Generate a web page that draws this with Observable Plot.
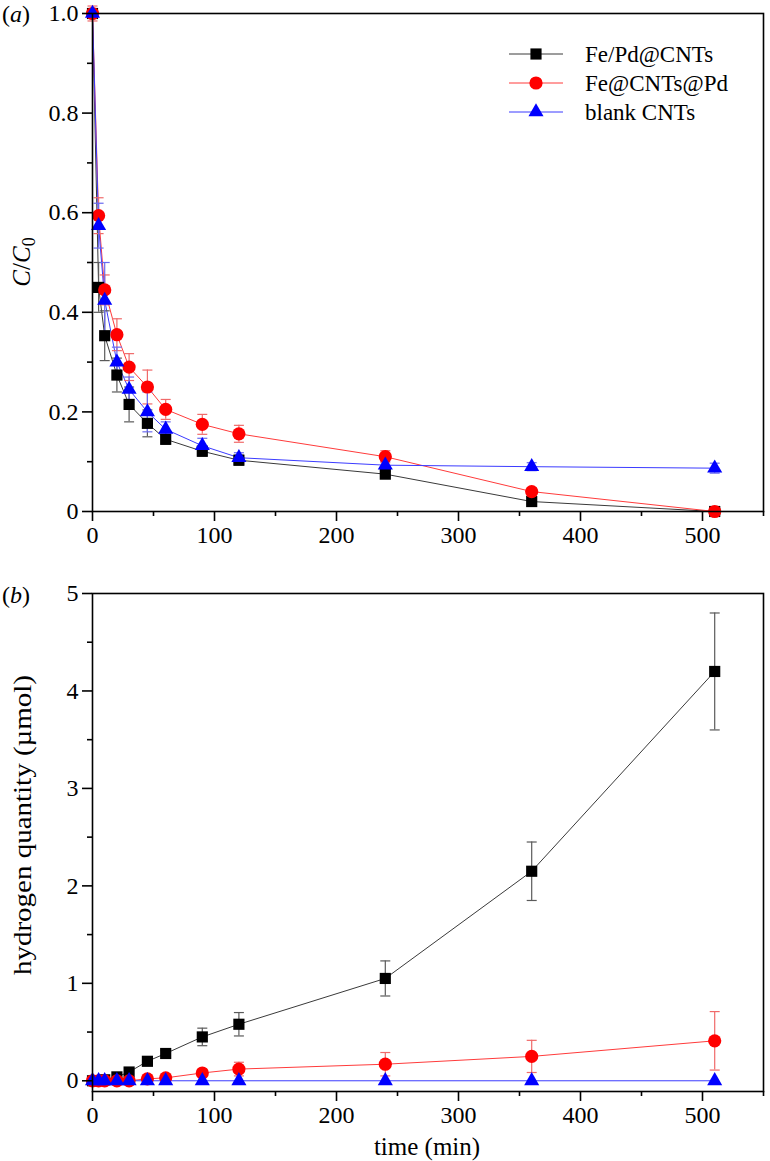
<!DOCTYPE html>
<html><head><meta charset="utf-8">
<script src="https://cdn.jsdelivr.net/npm/d3@7"></script>
<script src="https://cdn.jsdelivr.net/npm/@observablehq/plot@0.6"></script>
<style>
body{margin:0;background:#fff}
#wrap{position:relative;width:770px;height:1161px;font-family:"Liberation Serif",serif}
#wrap svg{position:absolute;left:0}
#wrap svg, #wrap svg text, #wrap svg tspan{font-family:"Liberation Serif",serif !important;font-variant:normal !important}
</style>
</head><body><div id="wrap"></div>
<script>
// ---------- data ----------
const times = [0, 5, 10, 20, 30, 45, 60, 90, 120, 240, 360, 510];
const seriesNames = ["Fe/Pd@CNTs", "Fe@CNTs@Pd", "blank CNTs"];
const seriesSymbols = ["square", "circle", "triangle"];

// panel (a): C/C0
const aFePd      = [1.0, 0.45, 0.353, 0.274, 0.215, 0.177, 0.145, 0.121, 0.103, 0.075, 0.02, 0.0];
const aFePdErr   = [0, 0.05, 0.05, 0.034, 0.035, 0.027, 0.01, 0.01, 0.01, 0.005, 0.005, 0];
const aFeCNTPd   = [1.0, 0.594, 0.445, 0.355, 0.29, 0.25, 0.205, 0.175, 0.156, 0.11, 0.04, 0.0];
const aFeCNTPdErr= [0.015, 0.036, 0.03, 0.032, 0.027, 0.034, 0.02, 0.02, 0.017, 0.012, 0.008, 0.005];
const aBlank     = [1.0, 0.574, 0.424, 0.30, 0.245, 0.2, 0.165, 0.132, 0.108, 0.093, 0.09, 0.087];
const aBlankErr  = [0, 0.045, 0.076, 0.03, 0.025, 0.04, 0.015, 0.015, 0.01, 0.008, 0.008, 0.01];

// panel (b): hydrogen quantity (µmol)
const bFePd      = [0, 0, 0.01, 0.04, 0.09, 0.2, 0.28, 0.45, 0.58, 1.05, 2.15, 4.2];
const bFePdErr   = [0, 0, 0, 0.01, 0.02, 0.03, 0.03, 0.09, 0.12, 0.18, 0.3, 0.6];
const bFeCNTPd   = [0, 0, 0, 0, 0, 0.02, 0.03, 0.08, 0.12, 0.17, 0.25, 0.41];
const bFeCNTPdErr= [0, 0, 0, 0, 0, 0.01, 0.01, 0.03, 0.07, 0.12, 0.165, 0.3];
const bBlank     = [0, 0, 0, 0, 0, 0, 0, 0, 0, 0, 0, 0];
const bBlankErr  = [0, 0, 0, 0, 0, 0, 0, 0, 0, 0, 0, 0];

// ticks
const xMajor = [0, 100, 200, 300, 400, 500];
const xMinor = [50, 150, 250, 350, 450, 550];
const aYMajor = [0, 0.2, 0.4, 0.6, 0.8, 1.0];
const aYMinor = [0.1, 0.3, 0.5, 0.7, 0.9];
const bYMajor = [0, 1, 2, 3, 4, 5];
const bYMinor = [0.5, 1.5, 2.5, 3.5, 4.5];

// ---------- styles ----------
const markerColors = ["#000000", "#ff0000", "#0000ff"];
const lineColors = ["#3a3a3a", "#ff3b3b", "#3b3bff"];
const errColors = ["#5a5a5a", "#f06a6a", "#6a6af0"];
const markerR = [6.3, 6.6, 5.6];
const FONT = "Liberation Serif";

const capSymbol = {draw(ctx, size) { const w = Math.sqrt(size / Math.PI); ctx.moveTo(-w, 0); ctx.lineTo(w, 0); }};

function toRows(series) {
  return series.map(([vals, errs], k) => times.map((t, i) => ({t, v: vals[i], e: errs[i], k})));
}

function seriesMarks(rowsBySeries) {
  const marks = [];
  rowsBySeries.forEach((rows, k) => {
    marks.push(Plot.line(rows, {x: "t", y: "v", stroke: lineColors[k], strokeWidth: 1}));
  });
  rowsBySeries.forEach((rows, k) => {
    const er = rows.filter(d => d.e > 0);
    marks.push(Plot.ruleX(er, {x: "t", y1: d => d.v - d.e, y2: d => d.v + d.e, stroke: errColors[k], strokeWidth: 1.2}));
    marks.push(Plot.dot(er, {x: "t", y: d => d.v + d.e, symbol: capSymbol, r: 5, stroke: errColors[k], strokeWidth: 1.2, fill: "none"}));
    marks.push(Plot.dot(er, {x: "t", y: d => d.v - d.e, symbol: capSymbol, r: 5, stroke: errColors[k], strokeWidth: 1.2, fill: "none"}));
  });
  rowsBySeries.forEach((rows, k) => {
    marks.push(Plot.dot(rows, {x: "t", y: "v", symbol: seriesSymbols[k], r: markerR[k], fill: markerColors[k], stroke: "none"}));
  });
  return marks;
}

const blank = () => "";
function axes(yMajor, yMinor, yFmt) {
  return [
    // tick lines
    Plot.axisX({ticks: xMajor, tickSize: 10, tickFormat: blank, strokeWidth: 1.6, label: null}),
    Plot.axisX({ticks: xMinor, tickSize: 5, tickFormat: blank, strokeWidth: 1.6, label: null}),
    Plot.axisY({ticks: yMajor, tickSize: 10, tickFormat: blank, strokeWidth: 1.6, label: null}),
    Plot.axisY({ticks: yMinor, tickSize: 5, tickFormat: blank, strokeWidth: 1.6, label: null}),
    // tick labels
    Plot.axisX({ticks: xMajor, tickSize: 0, tickPadding: 14, fontSize: 24, label: null}),
    Plot.axisY({ticks: yMajor, tickSize: 0, tickPadding: 14, fontSize: 24, tickFormat: yFmt, label: null}),
    Plot.frame({stroke: "#000", strokeWidth: 1.6})
  ];
}

const style = {fontFamily: "'Liberation Serif', serif", fontSize: "24px"};

// ---------- panel (a) ----------
const rowsA = toRows([[aFePd, aFePdErr], [aFeCNTPd, aFeCNTPdErr], [aBlank, aBlankErr]]);
const plotA = Plot.plot({
  width: 770, height: 560,
  marginLeft: 92, marginRight: 7, marginTop: 13, marginBottom: 49,
  style,
  x: {domain: [0, 550]},
  y: {domain: [0, 1]},
  marks: [
    ...seriesMarks(rowsA),
    ...axes(aYMajor, aYMinor, d => d === 0 ? "0" : d.toFixed(1))
  ]
});
plotA.style.top = "0px";
plotA.style.overflow = "visible";
plotA.style.background = "transparent";

// ---------- panel (b) ----------
const rowsB = toRows([[bFePd, bFePdErr], [bFeCNTPd, bFeCNTPdErr], [bBlank, bBlankErr]]);
const plotB = Plot.plot({
  width: 770, height: 601,
  marginLeft: 92, marginRight: 7, marginTop: 33, marginBottom: 70,
  style,
  x: {domain: [0, 550]},
  y: {domain: [-0.11, 5]},
  marks: [
    ...seriesMarks(rowsB),
    ...axes(bYMajor, bYMinor, d => String(d))
  ]
});
plotB.style.top = "560px";
plotB.style.overflow = "visible";
plotB.style.background = "transparent";

const wrap = document.getElementById("wrap");
wrap.appendChild(plotA);
wrap.appendChild(plotB);

// ---------- text annotations ----------
const sa = d3.select(plotA);
sa.append("text").attr("x", 2).attr("y", 22).attr("font-size", 24).attr("text-anchor", "start")
  .html('(<tspan font-style="italic">a</tspan>)');
const yl = sa.append("text").attr("transform", "translate(30,262) rotate(-90)")
  .attr("text-anchor", "middle").attr("font-size", 25);
yl.append("tspan").attr("font-style", "italic").text("C");
yl.append("tspan").text("/");
yl.append("tspan").attr("font-style", "italic").text("C");
yl.append("tspan").attr("font-size", 18).attr("dy", 5).text("0");

// legend
const legendRows = [54, 83, 112];
seriesNames.forEach((name, k) => {
  const g = sa.append("g").attr("transform", `translate(0,${legendRows[k]})`);
  g.append("line").attr("x1", 509).attr("x2", 563).attr("y1", 0).attr("y2", 0)
    .attr("stroke", lineColors[k]).attr("stroke-width", 1);
  g.append("path").attr("transform", "translate(536,0)")
    .attr("d", d3.symbol(k === 0 ? d3.symbolSquare : k === 1 ? d3.symbolCircle : d3.symbolTriangle, markerR[k] * markerR[k] * Math.PI)())
    .attr("fill", markerColors[k]);
  g.append("text").attr("x", 585).attr("y", 0).attr("dy", "0.34em").attr("font-size", 23)
    .attr("text-anchor", "start").text(name);
});

const sb = d3.select(plotB);
sb.append("text").attr("x", 2).attr("y", 43).attr("font-size", 24).attr("text-anchor", "start")
  .html('(<tspan font-style="italic">b</tspan>)');
sb.append("text").attr("transform", "translate(31,265) rotate(-90)")
  .attr("text-anchor", "middle").attr("font-size", 25)
  .attr("textLength", 300).attr("lengthAdjust", "spacingAndGlyphs")
  .text("hydrogen quantity (\u00b5mol)");
sb.append("text").attr("x", 427).attr("y", 595).attr("text-anchor", "middle")
  .attr("font-size", 25).text("time (min)");
</script></body></html>
